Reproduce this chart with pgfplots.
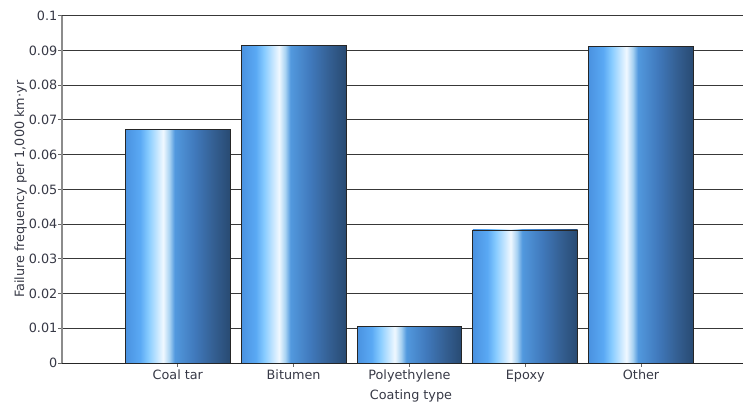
\documentclass[border=0pt]{standalone}
\usepackage{pgfplots}
\pgfplotsset{compat=1.18}
\usepackage{fontspec}
\setmainfont{DejaVu Sans}
\definecolor{txt}{RGB}{55,57,70}
\definecolor{c0}{HTML}{4A92E0}
\definecolor{c1}{HTML}{5AA9F4}
\definecolor{c2}{HTML}{88CCFF}
\definecolor{c3}{HTML}{F0F8FF}
\definecolor{c4}{HTML}{A8D2F2}
\definecolor{c5}{HTML}{5299DE}
\definecolor{c6}{HTML}{4079BC}
\definecolor{c7}{HTML}{345F92}
\definecolor{c8}{HTML}{284A72}
\pgfdeclarehorizontalshading{barshade}{100bp}{color(0bp)=(c0); color(25bp)=(c0); color(32bp)=(c1); color(36bp)=(c2); color(43bp)=(c3); color(46bp)=(c4); color(48.5bp)=(c5); color(58bp)=(c6); color(67bp)=(c7); color(75bp)=(c8); color(100bp)=(c8)}
\newcommand\f{\fontsize{12.8bp}{15bp}\selectfont}
\tikzset{barst/.style={ybar, bar width=0.905, bar shift=0pt, draw=black!85, line width=0.9bp, shade, shading=barshade}}
\begin{document}
\begin{tikzpicture}
\begin{axis}[
  at={(0,0)}, anchor=south west,
  scale only axis, width=681bp, height=347.3bp,
  xmin=-1, xmax=4.88, ymin=0, ymax=0.1,
  axis x line*=bottom, axis y line*=left,
  x axis line style={draw=black!85, line width=1bp, -},
  y axis line style={draw=black!45, line width=1.6bp, -},
  xtick={0,1,2,3,4},
  xticklabels={Coal tar, Bitumen, Polyethylene, Epoxy, Other},
  ytick={0,0.01,0.02,0.03,0.04,0.05,0.06,0.07,0.08,0.09,0.1},
  scaled y ticks=false,
  yticklabel style={/pgf/number format/.cd, fixed, precision=2, assume math mode=true, /tikz/.cd, font=\f, text=txt, inner sep=1bp},
  xticklabel style={font=\f, text=txt, inner sep=1bp, yshift=-2bp},
  tick align=outside,
  major tick length=3.5bp,
  tick style={draw=black!60, line width=0.8bp},
  ymajorgrids,
  grid style={draw=black!78, line width=0.9bp},
  xlabel={Coating type},
  xlabel style={at={(rel axis cs:0.5125,0)}, anchor=north, yshift=-26.5bp, font=\f, text=txt, inner sep=0pt},
  ylabel={Failure frequency per 1,000 km·yr},
  ylabel style={at={([xshift=-35bp]rel axis cs:0,0.5)}, anchor=south, font=\f, text=txt, inner sep=0pt},
]
\addplot[barst] coordinates {(0,0.0673)};
\addplot[barst] coordinates {(1,0.0913)};
\addplot[barst] coordinates {(2,0.0104)};
\addplot[barst] coordinates {(3,0.0383)};
\addplot[barst] coordinates {(4,0.0911)};
\end{axis}
\pgfresetboundingbox
\path[use as bounding box] (-62bp,-40bp) rectangle (682bp,363bp);
\end{tikzpicture}
\end{document}
